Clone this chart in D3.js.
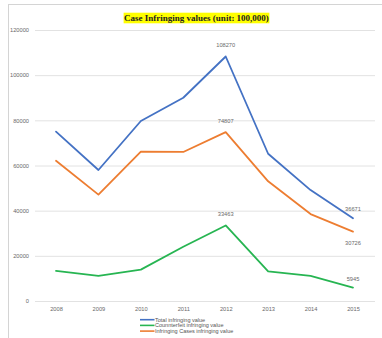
<!DOCTYPE html>
<html>
<head>
<meta charset="utf-8">
<script src="https://cdn.jsdelivr.net/npm/d3@7/dist/d3.min.js"></script>
<style>
  html, body { margin: 0; padding: 0; background: #fff; }
  svg { display: block; }
</style>
</head>
<body>
<script>
// Yearly infringing values (unit: 100,000)
const years = ["2008", "2009", "2010", "2011", "2012", "2013", "2014", "2015"];
const totalValues = [75000, 58000, 79700, 90000, 108270, 65200, 49100, 36671];
const counterfeitValues = [13300, 11100, 13900, 24000, 33463, 13100, 11100, 5945];
const casesValues = [62100, 47100, 66100, 66000, 74807, 53000, 38500, 30726];
const yTicks = [0, 20000, 40000, 60000, 80000, 100000, 120000];
const seriesNames = ["Total infringing value", "Counnterfeit  infringing value", "Infringing Cases infringing value"];
const seriesColors = ["#4472c4", "#27b552", "#ed7d31"];
const titleText = "Case Infringing values (unit: 100,000)";

const W = 382, H = 338;
const svg = d3.select("body").append("svg").attr("width", W).attr("height", H);

// chart frame
svg.append("line").attr("x1", 8).attr("x2", W).attr("y1", 4.5).attr("y2", 4.5)
  .attr("stroke", "#d4d4d4").attr("stroke-width", 1);
svg.append("line").attr("x1", 8.5).attr("x2", 8.5).attr("y1", 4).attr("y2", H)
  .attr("stroke", "#d4d4d4").attr("stroke-width", 1);

const x = d3.scalePoint().domain(years).range([56, 353]);
const y = d3.scaleLinear().domain([0, 120000]).range([301, 30]);

// horizontal gridlines + value axis labels
const yAxis = d3.axisLeft(y).tickValues(yTicks).tickSize(-(375 - 35)).tickFormat(d3.format("d")).tickPadding(6);
const gy = svg.append("g").attr("transform", "translate(35,0)").call(yAxis);
gy.select(".domain").remove();
gy.selectAll(".tick line").attr("stroke", "#e2e2e2").attr("stroke-width", 1);
gy.selectAll(".tick text").attr("fill", "#6a6a6a")
  .style("font-family", "'Liberation Sans', Arial, sans-serif").style("font-size", "5.7px");

// category axis labels
const xAxis = d3.axisBottom(x).tickSize(0).tickPadding(6);
const gx = svg.append("g").attr("transform", "translate(0,301)").call(xAxis);
gx.select(".domain").remove();
gx.selectAll(".tick text").attr("fill", "#6a6a6a")
  .style("font-family", "'Liberation Sans', Arial, sans-serif").style("font-size", "5.7px");

// series lines
const series = [totalValues, counterfeitValues, casesValues];
const line = d3.line().x((d, i) => x(years[i])).y(d => y(d));
series.forEach((vals, s) => {
  svg.append("path").datum(vals).attr("d", line)
    .attr("fill", "none").attr("stroke", seriesColors[s]).attr("stroke-width", 1.8)
    .attr("stroke-linejoin", "round").attr("stroke-linecap", "round");
});

// data labels for the peak year and the last year
const labelStyle = sel => sel.attr("fill", "#6a6a6a").attr("text-anchor", "middle")
  .style("font-family", "'Liberation Sans', Arial, sans-serif").style("font-size", "5.7px");
const labels = [
  { s: 0, i: 4, dy: -9 }, { s: 2, i: 4, dy: -9 }, { s: 1, i: 4, dy: -9 },
  { s: 0, i: 7, dy: -7 }, { s: 2, i: 7, dy: 13 }, { s: 1, i: 7, dy: -7 }
];
labels.forEach(l => {
  const v = series[l.s][l.i];
  svg.append("text").attr("x", x(years[l.i])).attr("y", y(v) + l.dy)
    .text(d3.format("d")(v)).call(labelStyle);
});

// title with highlight
const titleG = svg.append("g");
const titleBg = titleG.append("rect").attr("fill", "#ffff00");
const title = titleG.append("text").attr("x", 196.5).attr("y", 21.3).attr("text-anchor", "middle")
  .style("font-family", "'Liberation Serif', 'Times New Roman', serif").style("font-size", "9px")
  .style("font-weight", "bold").attr("fill", "#222").text(titleText);
const bb = title.node().getBBox();
titleBg.attr("x", bb.x - 0.5).attr("y", 12.7).attr("width", bb.width + 1).attr("height", 10.6);

// legend
const legend = svg.append("g");
seriesNames.forEach((name, i) => {
  const ly = 319.7 + i * 5.7;
  legend.append("line").attr("x1", 140).attr("x2", 154.5).attr("y1", ly).attr("y2", ly)
    .attr("stroke", seriesColors[i]).attr("stroke-width", 1.6);
  legend.append("text").attr("x", 155).attr("y", ly + 1.9).text(name).attr("fill", "#555")
    .style("font-family", "'Liberation Sans', Arial, sans-serif").style("font-size", "5.5px");
});
</script>
</body>
</html>
